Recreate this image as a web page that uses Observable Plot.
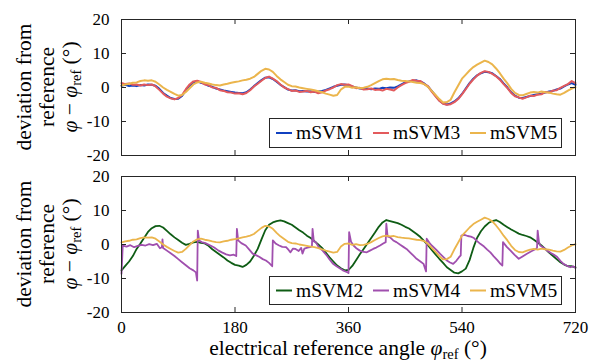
<!DOCTYPE html>
<html><head><meta charset="utf-8">
<script src="https://cdn.jsdelivr.net/npm/d3@7"></script>
<script src="https://cdn.jsdelivr.net/npm/@observablehq/plot@0.6"></script>
<style>
body{margin:0;background:#fff;}
#chart{position:relative;width:597px;height:364px;overflow:hidden;}
#chart svg{position:absolute;left:0;}
</style></head><body><div id="chart"></div>
<script>
// sample positions (electrical reference angle, degrees) for the evenly sampled series
const angleGrid = d3.range(0, 721, 6);
const yTicks = [-20, -10, 0, 10, 20];
const xTicks = [0, 180, 360, 540, 720];
const topSeries = ["mSVM1", "mSVM3", "mSVM5"];
const bottomSeries = ["mSVM2", "mSVM4", "mSVM5"];

const mSVM1 = [
 0.5,0.8,0.4,0.6,0.4,0.7,0.6,0.9,0.8,0.5,
 -0.4,-1.6,-2.4,-3.1,-3.4,-3.3,-2.5,-0.8,0.6,1.5,
 1.9,1.4,1.1,0.5,0.2,-0.3,-0.6,-0.9,-1.1,-1.3,
 -1.5,-1.6,-1.7,-1.4,-0.6,0.4,1.3,2.2,2.9,3.0,
 2.5,1.7,0.8,0.1,-0.6,-0.9,-0.8,-1.1,-1.0,-1.2,
 -1.1,-1.3,-1.2,-1.0,-0.7,-0.3,0.2,0.5,0.8,0.9,
 0.7,0.3,0.0,-0.3,-0.4,-0.3,-0.5,-0.3,-0.4,-0.1,
 -0.2,0.0,-0.1,0.3,0.9,1.5,1.8,2.0,2.1,1.8,
 1.2,0.3,-1.0,-2.4,-3.8,-4.7,-5.0,-4.7,-4.1,-3.2,
 -1.9,-0.3,1.3,2.6,3.6,4.2,4.6,4.5,4.2,3.4,
 2.5,1.2,0.0,-1.4,-2.4,-3.0,-3.1,-2.8,-2.5,-2.2,
 -2.0,-1.8,-1.5,-1.2,-1.0,-0.6,-0.3,0.3,0.9,1.3,
 0.8];
const mSVM3 = [
 1.3,1.0,1.2,0.8,0.9,0.6,0.9,0.7,0.9,0.3,
 -0.7,-1.8,-2.7,-3.2,-3.5,-3.1,-2.2,-0.5,0.9,1.8,
 2.0,1.6,0.9,0.7,0.0,-0.1,-0.8,-1.0,-1.4,-1.5,
 -1.8,-1.7,-2.0,-1.6,-0.8,0.3,1.1,2.0,2.8,3.2,
 2.6,1.9,0.9,0.0,-0.5,-1.0,-0.9,-1.3,-1.2,-1.0,
 -1.4,-1.2,-1.7,-1.4,-0.9,-0.5,0.0,0.7,1.0,0.8,
 0.9,0.4,-0.2,-0.1,-0.6,-0.5,-0.3,-0.7,-0.6,-0.9,
 -0.4,-0.6,-0.9,0.0,0.7,1.3,1.7,2.2,2.0,1.9,
 1.0,0.4,-1.2,-2.6,-3.9,-4.8,-5.1,-4.9,-4.3,-3.4,
 -2.0,-0.5,1.1,2.4,3.5,4.3,4.8,4.6,4.0,3.3,
 2.3,1.0,-0.2,-1.6,-2.6,-2.9,-3.3,-2.9,-2.4,-2.5,
 -2.1,-2.0,-1.3,-1.5,-0.9,-0.8,-0.1,0.5,1.0,1.9,
 1.3];
const mSVM5 = [
 0.6,0.9,1.1,1.4,1.5,1.9,2.1,2.0,2.1,1.7,
 0.9,0.0,-0.7,-1.3,-1.9,-2.4,-2.2,-1.3,-0.2,0.9,
 1.5,1.7,1.4,1.2,0.9,0.7,0.6,0.9,1.1,1.4,
 1.6,1.8,2.1,2.3,2.6,3.1,4.0,4.9,5.5,5.3,
 4.6,3.4,2.4,1.6,0.8,0.4,0.3,0.0,-0.2,-0.4,
 -0.6,-0.8,-1.1,-1.4,-1.8,-2.1,-2.4,-2.2,-0.6,0.2,
 0.3,-0.1,0.1,-0.2,-0.1,0.2,0.7,1.3,1.9,2.4,
 2.6,2.4,2.5,2.2,2.0,1.9,1.8,1.6,1.4,1.3,
 1.0,0.2,-1.0,-2.2,-3.4,-4.4,-4.3,-3.6,-1.4,0.6,
 2.6,3.8,5.0,6.0,6.7,7.3,7.9,7.5,6.8,5.6,
 4.2,2.6,1.2,-0.4,-1.6,-2.2,-2.3,-1.9,-1.5,-1.3,
 -1.5,-1.2,-1.4,-1.5,-1.8,-2.0,-2.1,-1.6,-0.9,-0.3,
 0.1];
const mSVM2 = [
 -7.6,-6.3,-5.0,-3.4,-1.3,0.3,2.0,3.7,4.8,5.4,
 5.5,5.0,4.0,3.0,2.1,1.3,0.5,-0.1,0.2,0.6,
 0.8,0.5,0.3,-0.4,-1.4,-2.2,-3.0,-3.8,-4.7,-5.4,
 -6.0,-6.2,-6.6,-6.0,-5.0,-3.3,-1.3,1.5,4.2,5.8,
 6.5,6.9,7.1,6.8,6.3,5.8,5.0,4.2,3.5,2.6,
 1.9,1.0,0.0,-1.0,-2.4,-3.8,-5.0,-6.2,-7.0,-7.6,
 -7.5,-6.3,-4.6,-2.9,-1.3,0.3,1.9,3.5,5.2,6.5,
 7.2,6.9,6.6,6.3,5.8,5.2,4.7,3.9,3.1,2.2,
 1.0,-0.2,-1.6,-2.9,-4.2,-5.4,-6.7,-7.5,-8.3,-8.5,
 -7.9,-7.1,-4.6,-1.0,2.0,3.9,5.3,6.3,6.9,7.2,
 6.6,5.8,5.1,4.4,3.8,3.2,2.8,2.5,2.1,1.4,
 0.6,-0.3,-1.3,-2.4,-3.3,-4.3,-5.2,-5.9,-6.4,-6.4,
 -6.7];
// mSVM4 has sharp jumps, so it keeps its own angles
const mSVM4Angle = [
 0,2,8,14,20,26,32,38,44,50,56,61,64,65,66,72,78,84,90,96,102,108,114,118,120,121,123,127,133,141,
 147,154,160,166,172,178,182,183,185,190,197,203,208,214,219,224,229,234,239,240,245,250,255,261,265,268,272,276,281,285,
 287,290,295,299,302,303,305,308,313,319,325,330,335,341,346,351,357,360,361,364,368,373,378,384,389,394,399,404,410,415,
 419,420,422,426,431,436,442,447,452,458,463,468,474,479,483,484,488,492,499,505,511,516,521,526,531,535,538,539,544,549,
 554,559,564,569,575,580,585,590,596,601,604,605,611,617,623,630,636,643,650,657,659,660,662,664,670,675,681,686,691,696,
 701,707,712,716,720];
const mSVM4 = [
 -8.6,-0.3,-0.6,-0.2,-0.8,-0.4,-0.1,-0.3,0.1,-0.2,0.2,-1.1,-0.8,1.5,-1.0,-1.8,-2.6,-3.4,-4.3,-5.2,-6.1,-7.0,-7.6,-8.2,-10.6,4.1,1.2,0.7,0.4,-0.3,
 -0.9,-1.8,-2.4,-2.9,-3.2,-3.0,-3.4,4.6,1.2,0.4,-0.3,-1.6,-2.7,-3.2,-3.7,-4.3,-4.7,-5.4,-6.4,1.2,0.2,-0.3,-0.7,-0.8,-1.6,-2.3,-1.2,-1.3,-1.9,-1.0,
 -2.7,-1.2,-0.9,-0.8,-0.5,4.6,0.9,0.7,-0.8,-1.8,-3.1,-4.4,-5.6,-6.4,-7.0,-7.6,-8.1,-8.4,3.6,0.8,-0.3,-1.2,-1.8,-2.2,-2.3,-1.8,-1.3,-0.9,-0.3,0.3,
 0.7,6.1,2.4,2.1,1.2,0.7,-0.1,-0.7,-1.3,-2.4,-3.3,-4.2,-5.0,-5.7,-7.9,1.7,0.6,-0.3,-1.5,-2.7,-3.8,-4.7,-5.3,-5.7,-4.8,-3.8,-3.2,2.6,2.8,2.5,
 2.3,1.9,1.0,0.2,-0.6,-1.5,-2.3,-3.4,-4.6,-5.7,-6.2,0.7,-0.7,-1.8,-3.0,-4.2,-3.5,-2.7,-2.0,-1.3,-1.0,4.1,0.8,-0.3,-1.0,-1.8,-2.5,-3.0,-3.7,-4.8,
 -5.7,-6.3,-6.7,-6.4,-6.9];

const colors = {mSVM1:"#1040c0", mSVM2:"#0e5c14", mSVM3:"#e35a5c", mSVM4:"#a04fae", mSVM5:"#ebb54c"};
const rows = (name, xs, ys) => xs.map((x, i) => ({series: name, angle: x, dev: ys[i]}));
const data = {
  mSVM1: rows("mSVM1", angleGrid, mSVM1),
  mSVM2: rows("mSVM2", angleGrid, mSVM2),
  mSVM3: rows("mSVM3", angleGrid, mSVM3),
  mSVM4: rows("mSVM4", mSVM4Angle, mSVM4),
  mSVM5: rows("mSVM5", angleGrid, mSVM5)
};

const W = 597, ML = 121, MR = 22, FW = W - ML - MR, INK = "#262626";
const FONT = "Liberation Serif, DejaVu Serif, serif";
function panel(names, height, mt, mb, withX, sw) {
  const FH = height - mt - mb;
  const marks = [
    ...names.map(n => Plot.line(data[n], {x: "angle", y: "dev", stroke: colors[n], strokeWidth: sw})),
    Plot.ruleY(yTicks, {stroke: INK, insetRight: FW - 5}),
    Plot.ruleY(yTicks, {stroke: INK, insetLeft: FW - 5}),
    Plot.ruleX(xTicks, {stroke: INK, insetTop: FH - 5}),
    Plot.ruleX(xTicks, {stroke: INK, insetBottom: FH - 5}),
    Plot.frame({stroke: INK}),
    Plot.axisY({ticks: yTicks, tickSize: 0, tickPadding: 12, tickFormat: d => String(d), label: null, fill: "#000"})
  ];
  if (withX) marks.push(Plot.axisX({ticks: xTicks, tickSize: 0, tickPadding: 8, tickFormat: d => String(d), label: null, fill: "#000"}));
  return Plot.plot({
    width: W, height, marginLeft: ML, marginRight: MR, marginTop: mt, marginBottom: mb,
    style: {fontFamily: FONT, fontSize: "17px", background: "transparent", overflow: "visible"},
    x: {domain: [0, 720], ...(withX ? {} : {axis: null})},
    y: {domain: [-20, 20]},
    marks
  });
}

const chart = document.getElementById("chart");
const p1 = panel(topSeries, 170, 19, 15, false, 2);
p1.style.top = "0px";
chart.appendChild(p1);
const p2 = panel(bottomSeries, 204, 16, 52, true, 1.8);
p2.style.top = "160px";
chart.appendChild(p2);

// text overlay: axis titles and legends
const over = d3.select(chart).append("svg")
  .attr("width", 597).attr("height", 364)
  .attr("font-family", FONT)
  .style("top", "0px");

function legend(names, y0, h) {
  const g = over.append("g");
  g.append("rect").attr("x", 269.5).attr("y", y0 + 0.5).attr("width", 292).attr("height", h)
    .attr("fill", "#fff").attr("stroke", INK);
  names.forEach((n, i) => {
    const x = 276 + i * 97;
    g.append("line").attr("x1", x).attr("x2", x + 16).attr("y1", y0 + h / 2 + 0.5).attr("y2", y0 + h / 2 + 0.5)
      .attr("stroke", colors[n]).attr("stroke-width", 2);
    g.append("text").attr("x", x + 20).attr("y", y0 + h / 2 + 6.5).attr("font-size", 19.5).text(n);
  });
}
legend(topSeries, 118, 29);
legend(bottomSeries, 276, 28);

function phiRef(t, sub) {
  t.append("tspan").attr("font-style", "italic").text("φ");
  t.append("tspan").attr("dy", 4).attr("font-size", sub).text("ref");
  t.append("tspan").attr("dy", -4).text(" (°)");
}
function ylab(cy) {
  const g = over.append("g").attr("transform", `translate(0,${cy})`);
  [["deviation from", 31], ["reference", 53.5]].forEach(([s, x]) =>
    g.append("text").attr("transform", `translate(${x},0) rotate(-90)`).attr("text-anchor", "middle")
      .attr("font-size", 21.5).text(s));
  const t = g.append("text").attr("transform", "translate(76.5,0) rotate(-90)").attr("text-anchor", "middle").attr("font-size", 21.5);
  t.append("tspan").attr("font-style", "italic").text("φ");
  t.append("tspan").text(" − ");
  phiRef(t, 14.5);
}
ylab(87);
ylab(244);

const xl = over.append("text").attr("x", 348).attr("y", 355).attr("text-anchor", "middle").attr("font-size", 21.5);
xl.append("tspan").text("electrical reference angle ");
phiRef(xl, 14.5);
</script></body></html>
